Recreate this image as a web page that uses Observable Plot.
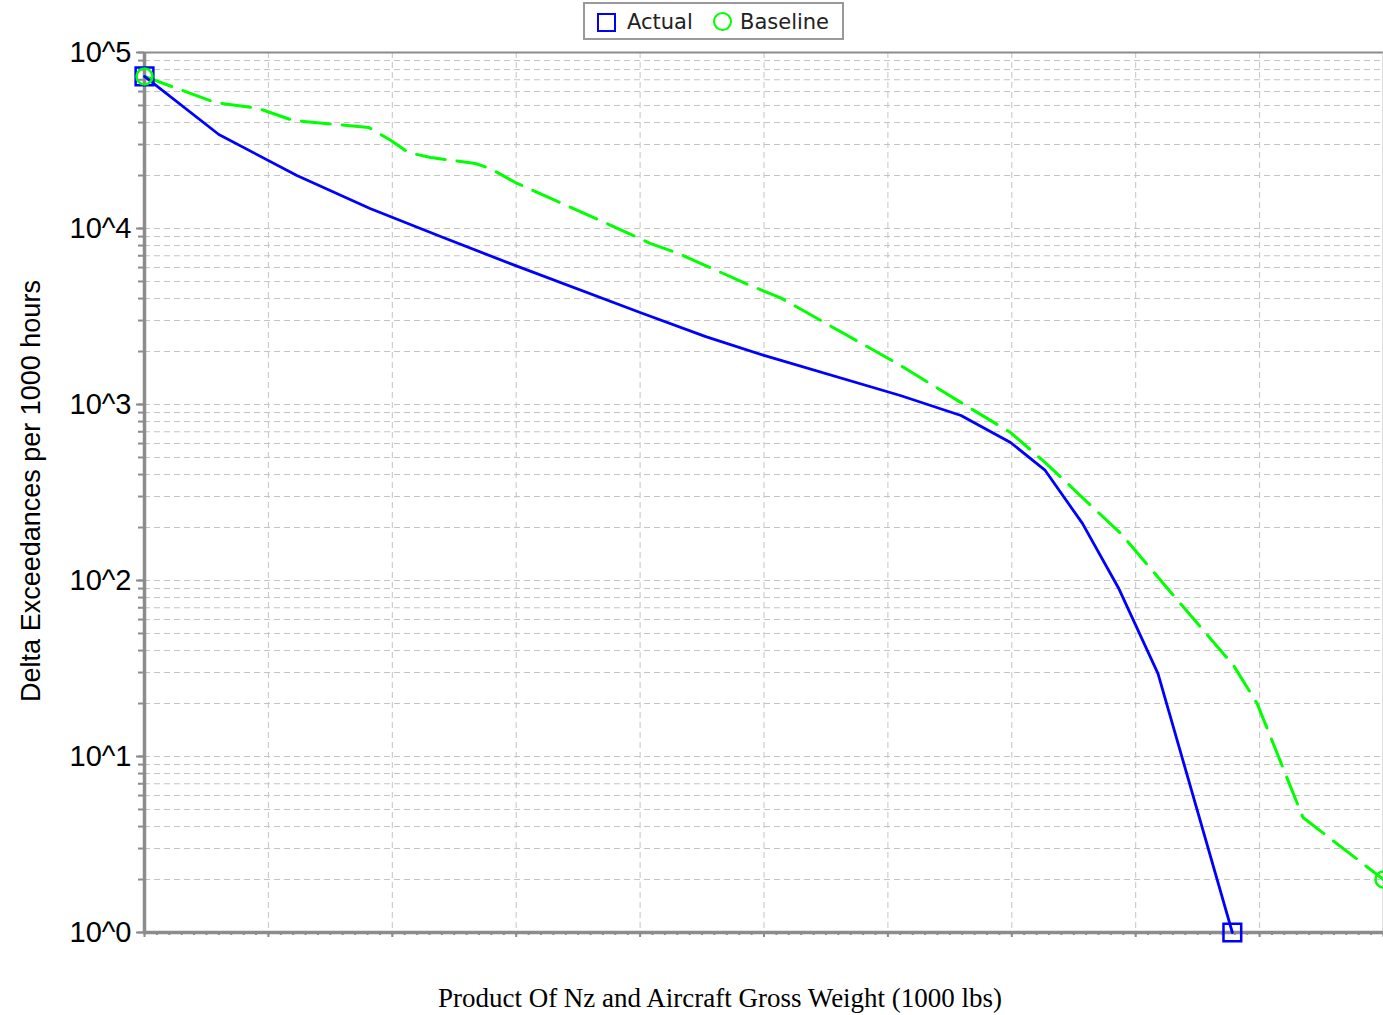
<!DOCTYPE html>
<html>
<head>
<meta charset="utf-8">
<script src="https://cdn.jsdelivr.net/npm/d3@7"></script>
<script src="https://cdn.jsdelivr.net/npm/@observablehq/plot@0.6"></script>
<style>
  html, body { margin: 0; padding: 0; background: #fff; }
  #wrap { position: relative; width: 1383px; height: 1015px; overflow: hidden; }
  #legend { position: absolute; left: 583px; top: 2px; width: 261px; height: 38px; box-sizing: border-box;
            border: 2px solid #999; background: #fff; font-family: "DejaVu Sans", sans-serif; font-size: 21px; color: #222; }
  #legend .sq { position: absolute; left: 12px; top: 9px; width: 15px; height: 15px; border: 2.5px solid #0000ff; }
  #legend .ci { position: absolute; left: 128px; top: 8px; width: 15px; height: 15px; border: 2.5px solid #00ff00; border-radius: 50%; }
  #legend .t1 { position: absolute; left: 42px; top: 6px; }
  #legend .t2 { position: absolute; left: 155px; top: 6px; }
  #xlabel { position: absolute; left: 220px; width: 1000px; top: 982px; text-align: center;
            font-family: "Liberation Serif", serif; font-size: 27px; line-height: 32px; color: #000; }
  #ylabel { position: absolute; left: 31px; top: 491px; transform: translate(-50%, -50%) rotate(-90deg);
            white-space: nowrap; font-family: "Liberation Sans", Arial, sans-serif; font-size: 27px; line-height: 30px; color: #000; }
</style>
</head>
<body>
<div id="wrap">
  <div id="chart"></div>
  <div id="legend"><span class="sq"></span><span class="t1">Actual</span><span class="ci"></span><span class="t2">Baseline</span></div>
  <div id="ylabel">Delta Exceedances per 1000 hours</div>
  <div id="xlabel">Product Of Nz and Aircraft Gross Weight (1000 lbs)</div>
</div>
<script>
// Data (x in gridline units 0..10, y in exceedances)
const actualX = [0, 0.6, 1.23, 1.82, 2.39, 2.99, 4.0, 4.53, 5.0, 6.1, 6.59, 6.99, 7.27, 7.57, 7.86, 8.18, 8.78];
const actualY = [73100, 34200, 20000, 13000, 9000, 6170, 3330, 2430, 1900, 1125, 866, 608, 422, 211, 91, 29.6, 1];

const baselineX = [0, 0.57, 0.92, 1.2, 1.81, 1.99, 2.13, 2.31, 2.67, 2.79, 2.99, 4.0, 4.08, 4.31, 4.89, 5.13, 6.1, 6.63, 6.99, 7.27, 7.57, 7.88, 8.34, 8.79, 8.98, 9.35, 10];
const baselineY = [73100, 52000, 48100, 41100, 37500, 31600, 27000, 25300, 23400, 21900, 18300, 8770, 8230, 7210, 4740, 4050, 1670, 986, 693, 468, 296, 185, 76.9, 32.9, 20, 4.5, 2.0];

const yMajorTicks = [1, 10, 100, 1000, 10000, 100000];
const yTickLabels = ["10^0", "10^1", "10^2", "10^3", "10^4", "10^5"];
const xMajorTicks = [0, 1, 2, 3, 4, 5, 6, 7, 8, 9, 10];

const actual = actualX.map((x, i) => ({x, y: actualY[i]}));
const baseline = baselineX.map((x, i) => ({x, y: baselineY[i]}));
const yMinor = [];
for (let d = 0; d < 5; d++) for (let k = 1; k <= 9; k++) yMinor.push(k * Math.pow(10, d));
yMinor.push(100000);
const xMinor = d3.range(0, 101).map(i => i / 10);
const gridColor = "#c4c4c4";
const axisColor = "#8c8c8c";

const chart = Plot.plot({
  width: 1383,
  height: 1015,
  marginLeft: 144,
  marginRight: 0,
  marginTop: 52,
  marginBottom: 83,
  style: {background: "#fff", fontFamily: "Liberation Sans, Arial, sans-serif", overflow: "visible"},
  x: {domain: [0, 10], axis: null},
  y: {type: "log", domain: [1, 100000], axis: null},
  marks: [
    Plot.ruleY(yMinor.filter(v => v > 1 && v < 100000), {y: d => d, stroke: gridColor, strokeWidth: 1, strokeDasharray: "6,4"}),
    Plot.ruleX(xMajorTicks.filter(v => v > 0 && v < 10), {x: d => d, stroke: gridColor, strokeWidth: 1, strokeDasharray: "6,4"}),
    // frame (top and right)
    Plot.ruleY([100000], {stroke: axisColor, strokeWidth: 2}),
    Plot.ruleX([10], {stroke: "#bbbbbb", strokeWidth: 2}),
    // y axis ticks and labels
    Plot.axisY({ticks: yMinor, tickSize: 6, tickFormat: () => "", label: null, stroke: axisColor, strokeWidth: 2}),
    Plot.axisY({ticks: yMajorTicks, tickSize: 8, tickPadding: 5, label: null, stroke: axisColor, strokeWidth: 2, fill: "#000", fontSize: 29,
                tickFormat: d => yTickLabels[yMajorTicks.indexOf(d)]}),
    // x axis ticks (no labels)
    Plot.axisX({ticks: xMinor, tickSize: 3, tickFormat: () => "", label: null, stroke: axisColor, strokeWidth: 2}),
    Plot.axisX({ticks: xMajorTicks, tickSize: 5, tickFormat: () => "", label: null, stroke: axisColor, strokeWidth: 2}),
    // axis lines
    Plot.ruleX([0], {stroke: axisColor, strokeWidth: 3.5}),
    Plot.ruleY([1], {stroke: axisColor, strokeWidth: 3.5}),
    // series
    Plot.line(baseline, {x: "x", y: "y", stroke: "#00ff00", strokeWidth: 3, strokeDasharray: "29,12"}),
    Plot.line(actual, {x: "x", y: "y", stroke: "#0000ff", strokeWidth: 2.8}),
    Plot.dot([actual[0], actual[actual.length - 1]], {x: "x", y: "y", symbol: "square", r: 10, stroke: "#0000ff", strokeWidth: 2.5, fill: "none"}),
    Plot.dot([baseline[0], baseline[baseline.length - 1]], {x: "x", y: "y", symbol: "circle", r: 8, stroke: "#00ff00", strokeWidth: 2.5, fill: "none"})
  ]
});
document.getElementById("chart").appendChild(chart);
</script>
</body>
</html>
